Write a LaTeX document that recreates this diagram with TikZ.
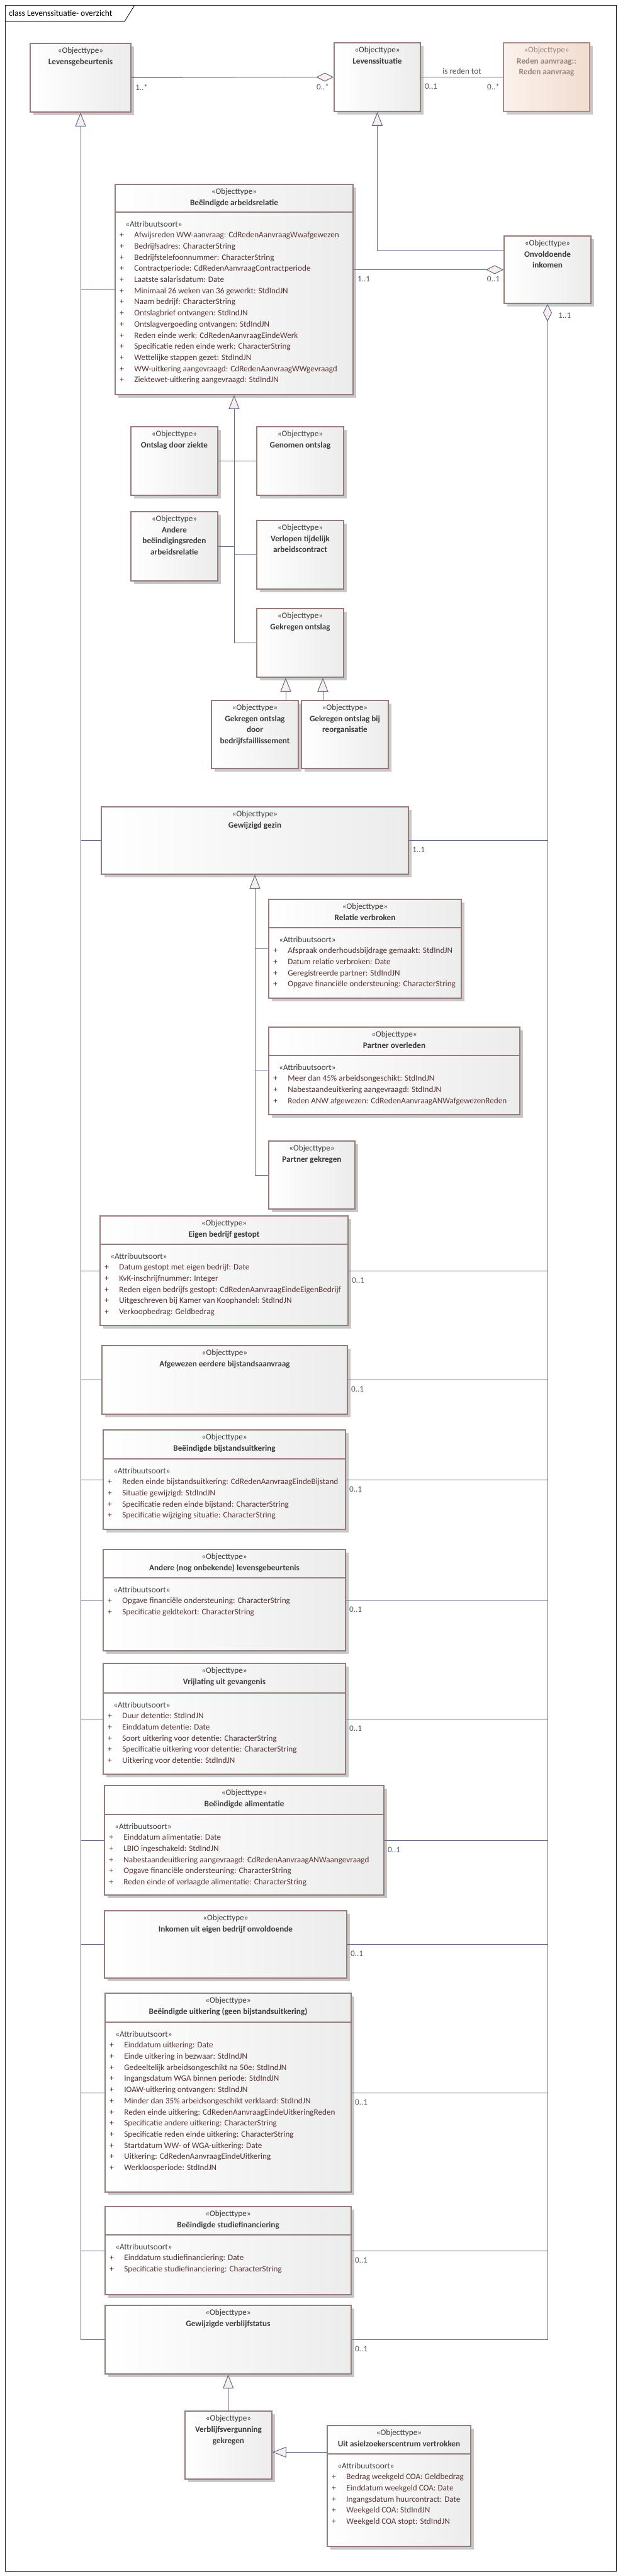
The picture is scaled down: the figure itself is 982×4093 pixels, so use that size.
\documentclass[tikz,border=0pt]{standalone}
\usepackage{fontspec}
\usepackage{graphicx}
\setmainfont{Carlito}
\usetikzlibrary{arrows.meta,calc,shadows}
\definecolor{bord}{RGB}{150,124,122}
\definecolor{rabord}{RGB}{170,140,132}
\definecolor{boxr}{RGB}{236,236,236}
\definecolor{ral}{RGB}{251,241,236}
\definecolor{rar}{RGB}{242,220,208}
\definecolor{shad}{RGB}{200,200,200}
\definecolor{lc}{RGB}{95,105,140}
\definecolor{tri}{RGB}{250,238,235}
\definecolor{hdrc}{RGB}{60,60,60}
\definecolor{attrc}{RGB}{88,52,52}
\definecolor{multc}{RGB}{85,85,95}
\definecolor{rac}{RGB}{150,132,128}
\newlength\attrmax
\newsavebox\attrbox
\newcommand\fitattr[1]{\sbox\attrbox{#1}\ifdim\wd\attrbox>\attrmax\resizebox{\attrmax}{\ht\attrbox}{\usebox\attrbox}\else\usebox\attrbox\fi}
\newcommand\uattr[1]{\makebox[23pt][l]{+}\fitattr{#1}}
\tikzset{
  clsbox/.style={draw=bord, line width=1.6pt, left color=white, right color=boxr,
    drop shadow={shadow xshift=4.5pt,shadow yshift=-4.5pt,fill=shad,opacity=1}, inner sep=0pt, anchor=center},
  clsline/.style={draw=bord, line width=1.6pt},
  hdr/.style={align=center, inner sep=0pt, anchor=north, font=\fontsize{13.2}{17.7}\selectfont, text=hdrc},
  attrtxt/.style={align=left, inner sep=0pt, anchor=north west, font=\fontsize{13.2}{17.7}\selectfont, text=attrc},
  mult/.style={font=\fontsize{13.2}{15}\selectfont, text=multc, inner sep=0pt, anchor=west},
  conn/.style={draw=lc, line width=1pt},
  gen/.style={conn, -{Triangle[length=22pt,width=17pt,fill=tri]}},
  frame/.style={draw=black!85, line width=1pt}
}
\newcommand\ubox[6]{%
  \node[clsbox, minimum width=#4pt, minimum height=#5pt] (#1) at ({#2+#4/2},{#3+#5/2}) {};
  \node[hdr] (#1-hd) at ($(#1.north)+(0,7)$) {#6};
}
\newcommand\uattrs[4]{%
  \draw[clsline] ($(#1.north west)+(0,#2)$) -- ($(#1.north east)+(0,#2)$);
  \global\attrmax=\dimexpr#3pt-35pt\relax
  \node[attrtxt] (#1-at) at ($(#1.north west)+(8,#2+13.5)$) {\hspace*{9pt}\textcolor{hdrc}{«Attribuutsoort»}\\#4};
}
\begin{document}
\begin{tikzpicture}[x=1pt,y=-1pt]
\useasboundingbox[fill=white] (0,0) rectangle (982,4093);
% frame
\draw[frame] (8,8) rectangle (979,4085);
\draw[frame] (8,34) -- (198,34) -- (214,8);
\node[inner sep=0pt, anchor=west, font=\fontsize{13.5}{15}\selectfont, text=black] (ftitle) at (14,21) {class Levenssituatie- overzicht};

% top row
\ubox{lg}{48}{69}{160}{109}{«Objecttype»\\\textbf{Levensgebeurtenis}}
\ubox{ls}{531}{68}{137}{109}{«Objecttype»\\\textbf{Levenssituatie}}
\node[clsbox, draw=rabord, left color=ral, right color=rar, minimum width=137pt, minimum height=109pt] (ra) at ({800+137/2},{68+109/2}) {};
\node[hdr, text=rac] (ra-hd) at ($(ra.north)+(0,7)$) {«Objecttype»\\\textbf{Reden aanvraag::}\\\textbf{Reden aanvraag}};

% Beeindigde arbeidsrelatie
\ubox{ba}{183}{293}{378}{334}{«Objecttype»\\\textbf{Beëindigde arbeidsrelatie}}
\uattrs{ba}{45}{378}{%
\uattr{Afwijsreden WW-aanvraag: CdRedenAanvraagWwafgewezen}\\
\uattr{Bedrijfsadres: CharacterString}\\
\uattr{Bedrijfstelefoonnummer: CharacterString}\\
\uattr{Contractperiode: CdRedenAanvraagContractperiode}\\
\uattr{Laatste salarisdatum: Date}\\
\uattr{Minimaal 26 weken van 36 gewerkt: StdIndJN}\\
\uattr{Naam bedrijf: CharacterString}\\
\uattr{Ontslagbrief ontvangen: StdIndJN}\\
\uattr{Ontslagvergoeding ontvangen: StdIndJN}\\
\uattr{Reden einde werk: CdRedenAanvraagEindeWerk}\\
\uattr{Specificatie reden einde werk: CharacterString}\\
\uattr{Wettelijke stappen gezet: StdIndJN}\\
\uattr{WW-uitkering aangevraagd: CdRedenAanvraagWWgevraagd}\\
\uattr{Ziektewet-uitkering aangevraagd: StdIndJN}}

\ubox{oi}{801}{375}{138}{107}{«Objecttype»\\\textbf{Onvoldoende}\\\textbf{inkomen}}

% ontslag types
\ubox{odz}{208}{678}{138}{109}{«Objecttype»\\\textbf{Ontslag door ziekte}}
\ubox{go}{408}{678}{138}{109}{«Objecttype»\\\textbf{Genomen ontslag}}
\ubox{abr}{208}{813}{138}{110}{«Objecttype»\\\textbf{Andere}\\\textbf{beëindigingsreden}\\\textbf{arbeidsrelatie}}
\ubox{vtc}{408}{827}{138}{109}{«Objecttype»\\\textbf{Verlopen tijdelijk}\\\textbf{arbeidscontract}}
\ubox{gk}{408}{967}{138}{109}{«Objecttype»\\\textbf{Gekregen ontslag}}
\ubox{gof}{336}{1113}{138}{108}{«Objecttype»\\\textbf{Gekregen ontslag}\\\textbf{door}\\\textbf{bedrijfsfaillissement}}
\ubox{gor}{479}{1113}{138}{108}{«Objecttype»\\\textbf{Gekregen ontslag bij}\\\textbf{reorganisatie}}

% gezin
\ubox{gg}{161}{1282}{488}{107}{«Objecttype»\\\textbf{Gewijzigd gezin}}
\ubox{rv}{427}{1429}{306}{157}{«Objecttype»\\\textbf{Relatie verbroken}}
\uattrs{rv}{46}{306}{%
\uattr{Afspraak onderhoudsbijdrage gemaakt: StdIndJN}\\
\uattr{Datum relatie verbroken: Date}\\
\uattr{Geregistreerde partner: StdIndJN}\\
\uattr{Opgave financiële ondersteuning: CharacterString}}
\ubox{po}{427}{1632}{399}{139}{«Objecttype»\\\textbf{Partner overleden}}
\uattrs{po}{46}{399}{%
\uattr{Meer dan 45\% arbeidsongeschikt: StdIndJN}\\
\uattr{Nabestaandeuitkering aangevraagd: StdIndJN}\\
\uattr{Reden ANW afgewezen: CdRedenAanvraagANWafgewezenReden}}
\ubox{pg}{427}{1813}{137}{108}{«Objecttype»\\\textbf{Partner gekregen}}

% remaining levensgebeurtenissen
\ubox{eb}{159}{1932}{394}{174}{«Objecttype»\\\textbf{Eigen bedrijf gestopt}}
\uattrs{eb}{46}{394}{%
\uattr{Datum gestopt met eigen bedrijf: Date}\\
\uattr{KvK-inschrijfnummer: Integer}\\
\uattr{Reden eigen bedrijfs gestopt: CdRedenAanvraagEindeEigenBedrijf}\\
\uattr{Uitgeschreven bij Kamer van Koophandel: StdIndJN}\\
\uattr{Verkoopbedrag: Geldbedrag}}
\ubox{ae}{162}{2138}{390}{109}{«Objecttype»\\\textbf{Afgewezen eerdere bijstandsaanvraag}}
\ubox{bb}{164}{2272}{385}{158}{«Objecttype»\\\textbf{Beëindigde bijstandsuitkering}}
\uattrs{bb}{47}{385}{%
\uattr{Reden einde bijstandsuitkering: CdRedenAanvraagEindeBijstand}\\
\uattr{Situatie gewijzigd: StdIndJN}\\
\uattr{Specificatie reden einde bijstand: CharacterString}\\
\uattr{Specificatie wijziging situatie: CharacterString}}
\ubox{an}{164}{2462}{385}{161}{«Objecttype»\\\textbf{Andere (nog onbekende) levensgebeurtenis}}
\uattrs{an}{46}{385}{%
\uattr{Opgave financiële ondersteuning: CharacterString}\\
\uattr{Specificatie geldtekort: CharacterString}}
\ubox{vg}{164}{2643}{385}{176}{«Objecttype»\\\textbf{Vrijlating uit gevangenis}}
\uattrs{vg}{48}{385}{%
\uattr{Duur detentie: StdIndJN}\\
\uattr{Einddatum detentie: Date}\\
\uattr{Soort uitkering voor detentie: CharacterString}\\
\uattr{Specificatie uitkering voor detentie: CharacterString}\\
\uattr{Uitkering voor detentie: StdIndJN}}
\ubox{bal}{166}{2837}{444}{174}{«Objecttype»\\\textbf{Beëindigde alimentatie}}
\uattrs{bal}{47}{444}{%
\uattr{Einddatum alimentatie: Date}\\
\uattr{LBIO ingeschakeld: StdIndJN}\\
\uattr{Nabestaandeuitkering aangevraagd: CdRedenAanvraagANWaangevraagd}\\
\uattr{Opgave financiële ondersteuning: CharacterString}\\
\uattr{Reden einde of verlaagde alimentatie: CharacterString}}
\ubox{ie}{166}{3036}{385}{107}{«Objecttype»\\\textbf{Inkomen uit eigen bedrijf onvoldoende}}
\ubox{bu}{167}{3167}{391}{316}{«Objecttype»\\\textbf{Beëindigde uitkering (geen bijstandsuitkering)}}
\uattrs{bu}{47}{391}{%
\uattr{Einddatum uitkering: Date}\\
\uattr{Einde uitkering in bezwaar: StdIndJN}\\
\uattr{Gedeeltelijk arbeidsongeschikt na 50e: StdIndJN}\\
\uattr{Ingangsdatum WGA binnen periode: StdIndJN}\\
\uattr{IOAW-uitkering ontvangen: StdIndJN}\\
\uattr{Minder dan 35\% arbeidsongeschikt verklaard: StdIndJN}\\
\uattr{Reden einde uitkering: CdRedenAanvraagEindeUitkeringReden}\\
\uattr{Specificatie andere uitkering: CharacterString}\\
\uattr{Specificatie reden einde uitkering: CharacterString}\\
\uattr{Startdatum WW- of WGA-uitkering: Date}\\
\uattr{Uitkering: CdRedenAanvraagEindeUitkering}\\
\uattr{Werkloosperiode: StdIndJN}}
\ubox{bs}{167}{3506}{391}{140}{«Objecttype»\\\textbf{Beëindigde studiefinanciering}}
\uattrs{bs}{46}{391}{%
\uattr{Einddatum studiefinanciering: Date}\\
\uattr{Specificatie studiefinanciering: CharacterString}}
\ubox{vs}{167}{3663}{391}{109}{«Objecttype»\\\textbf{Gewijzigde verblijfstatus}}
\ubox{vv}{294}{3831}{138}{108}{«Objecttype»\\\textbf{Verblijfsvergunning}\\\textbf{gekregen}}
\ubox{uac}{520}{3854}{228}{192}{«Objecttype»\\\textbf{Uit asielzoekerscentrum vertrokken}}
\uattrs{uac}{46}{228}{%
\uattr{Bedrag weekgeld COA: Geldbedrag}\\
\uattr{Einddatum weekgeld COA: Date}\\
\uattr{Ingangsdatum huurcontract: Date}\\
\uattr{Weekgeld COA: StdIndJN}\\
\uattr{Weekgeld COA stopt: StdIndJN}}

% ---- connectors ----
\draw[conn, -{Diamond[length=28pt,width=14pt,fill=tri]}] (lg.east) -- (ls.west);
\node[mult] (m-lg) at ($(lg.east)+(6,15)$) {1..*};
\node[mult, anchor=east] (m-ls) at ($(ls.west)+(-7,15)$) {0..*};
\draw[conn] (ls.east) -- (ra.west);
\node[mult] (m-ls2) at ($(ls.east)+(6,15)$) {0..1};
\node[mult, anchor=east] (m-ra) at ($(ra.west)+(-5,15)$) {0..*};
\node[mult, anchor=center] (reden) at ($(ls.east)!0.5!(ra.west)+(0,-10)$) {is reden tot};

% generalisation of Levensgebeurtenis
\draw[gen] (vs.west) -| (lg.south);
\foreach \n in {ba,gg,eb,ae,bb,an,vg,bal,ie,bu,bs} \draw[conn] (\n.west) -- (\n.west -| lg.south);

% generalisation of Levenssituatie
\coordinate (oi-g) at ($(oi.north west)+(0,24)$);
\draw[gen] (oi-g) -| (ls.south);

% arbeidsrelatie - onvoldoende inkomen
\draw[conn, -{Diamond[length=28pt,width=14pt,fill=tri]}] (ba.east |- oi.west) -- (oi.west);
\node[mult] (m-ba) at ($(ba.east |- oi.west)+(6,15)$) {1..1};
\node[mult, anchor=east] (m-oi) at ($(oi.west)+(-6,15)$) {0..1};

% aggregation bus of onvoldoende inkomen
\draw[conn, {Diamond[length=28pt,width=14pt,fill=tri]}-] (oi.south) |- (vs.east);
\node[mult] (m-oi2) at ($(oi.south)+(17,18)$) {1..1};
\foreach \n in {gg,eb,ae,bb,an,vg,bal,ie,bu,bs} \draw[conn] (\n.east) -- (\n.east -| oi.south);
\node[mult] (m-gg) at ($(gg.east)+(5,15)$) {1..1};
\foreach \n in {eb,ae,bb,an,vg,bal,ie,bu,bs,vs} \node[mult] (m-\n) at ($(\n.east)+(5,15)$) {0..1};

% subtypes of arbeidsrelatie
\draw[gen] (gk.west) -| (ba.south);
\draw[conn] (odz.east) -- (go.west);
\draw[conn] (abr.east) -- (abr.east -| ba.south);
\draw[conn] (vtc.west) -- (vtc.west -| ba.south);
\coordinate (gk-t1) at ($(gk.south)+(-23,0)$);
\coordinate (gk-t2) at ($(gk.south)+(36,0)$);
\draw[gen] (gof.north -| gk-t1) -- (gk-t1);
\draw[gen] (gor.north -| gk-t2) -- (gk-t2);

% subtypes of gewijzigd gezin
\draw[gen] (pg.west) -| (gg.south);
\draw[conn] (rv.west) -- (rv.west -| gg.south);
\draw[conn] (po.west) -- (po.west -| gg.south);

% subtypes of verblijfstatus
\draw[gen] (vv.north) -- (vs.south);
\coordinate (uac-g) at ($(uac.north west)+(0,43)$);
\draw[gen] (uac-g) -- (uac-g -| vv.east);
\end{tikzpicture}
\end{document}
